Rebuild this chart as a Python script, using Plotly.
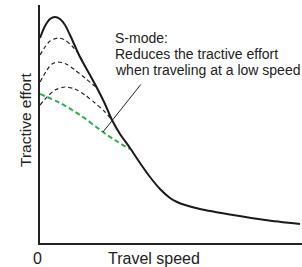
import plotly.graph_objects as go

# Data (arbitrary units: speed on x, tractive effort on y)
speed_main = [0, 5, 10, 15, 20, 25, 30, 40, 50, 57, 65, 72, 80, 90, 100, 110, 120, 130, 137, 145, 160, 193, 225, 260]
effort_main = [205, 217, 224, 226, 224, 218, 208, 186, 168, 155, 139, 123, 109, 95, 80, 66, 54, 45, 41, 38, 34, 28, 23, 19]

speed_d1 = [0, 5, 10, 18, 25, 32, 38, 43]
effort_d1 = [188, 196, 202, 205, 203, 197, 190, 181]

speed_d2 = [0, 7, 12, 18, 26, 35, 45, 57]
effort_d2 = [161, 173, 179, 181, 179, 173, 165, 155]

speed_d3 = [0, 8, 15, 25, 35, 45, 55, 65, 72]
effort_d3 = [138, 147, 153, 156, 154, 148, 140, 131, 123]

speed_s = [0, 20, 40, 63, 78, 90]
effort_s = [149, 140, 128, 111, 101, 94]

label_point = (63, 111)
label_from = (102, 160)

W, H = 302, 267
L, R, T, B = 40, 0, 5, 24
font = "Liberation Sans, Arial, sans-serif"

def px(x, y):
    return (x - L) / (W - L - R), 1 - (y - T) / (H - T - B)

fig = go.Figure()
for xs, ys in [(speed_d1, effort_d1), (speed_d2, effort_d2), (speed_d3, effort_d3)]:
    fig.add_trace(go.Scatter(x=xs, y=ys, mode="lines", line=dict(color="#222222", width=1.2, dash="4px,3px", shape="spline", smoothing=0.8), hoverinfo="skip"))
fig.add_trace(go.Scatter(x=speed_s, y=effort_s, mode="lines", line=dict(color="#2fae4e", width=2, dash="5px,3px", shape="spline"), hoverinfo="skip"))
fig.add_trace(go.Scatter(x=speed_main, y=effort_main, mode="lines", line=dict(color="#1a1a1a", width=2, shape="spline", smoothing=0.8), hoverinfo="skip"))

fig.add_annotation(x=label_point[0], y=label_point[1], ax=label_from[0], ay=label_from[1], axref="x", ayref="y", xref="x", yref="y",
                   text="", showarrow=True, arrowhead=0, arrowwidth=1, arrowcolor="#222")

lines = ["S-mode:", "Reduces the tractive effort", "when traveling at a low speed"]
for i, t in enumerate(lines):
    ax_, ay_ = px(113, 38 + 16 * i)
    fig.add_annotation(x=ax_, y=ay_, xref="paper", yref="paper", text=t, showarrow=False,
                       xanchor="left", yanchor="middle", font=dict(family=font, size=14, color="#222"))

ax_, ay_ = px(25, 120)
fig.add_annotation(x=ax_, y=ay_, xref="paper", yref="paper", text="Tractive effort", textangle=-90, showarrow=False,
                   xanchor="center", yanchor="middle", font=dict(family=font, size=15.5, color="#222"))
ax_, ay_ = px(154, 258)
fig.add_annotation(x=ax_, y=ay_, xref="paper", yref="paper", text="Travel speed", showarrow=False,
                   xanchor="center", yanchor="middle", font=dict(family=font, size=16, color="#222"))
ax_, ay_ = px(37, 258)
fig.add_annotation(x=ax_, y=ay_, xref="paper", yref="paper", text="0", showarrow=False,
                   xanchor="center", yanchor="middle", font=dict(family=font, size=16, color="#222"))

fig.update_layout(
    width=W, height=H, margin=dict(l=L, r=R, t=T, b=B),
    paper_bgcolor="white", plot_bgcolor="white", showlegend=False,
    xaxis=dict(range=[0, 262], showgrid=False, zeroline=False, showline=True, linecolor="#222", linewidth=1.5,
               showticklabels=False, ticks=""),
    yaxis=dict(range=[0, 238], showgrid=False, zeroline=False, showline=True, linecolor="#222", linewidth=1.5,
               showticklabels=False, ticks=""),
)
fig.write_html("out.html", config={"displayModeBar": False}, post_script="document.body.style.margin='0';")
